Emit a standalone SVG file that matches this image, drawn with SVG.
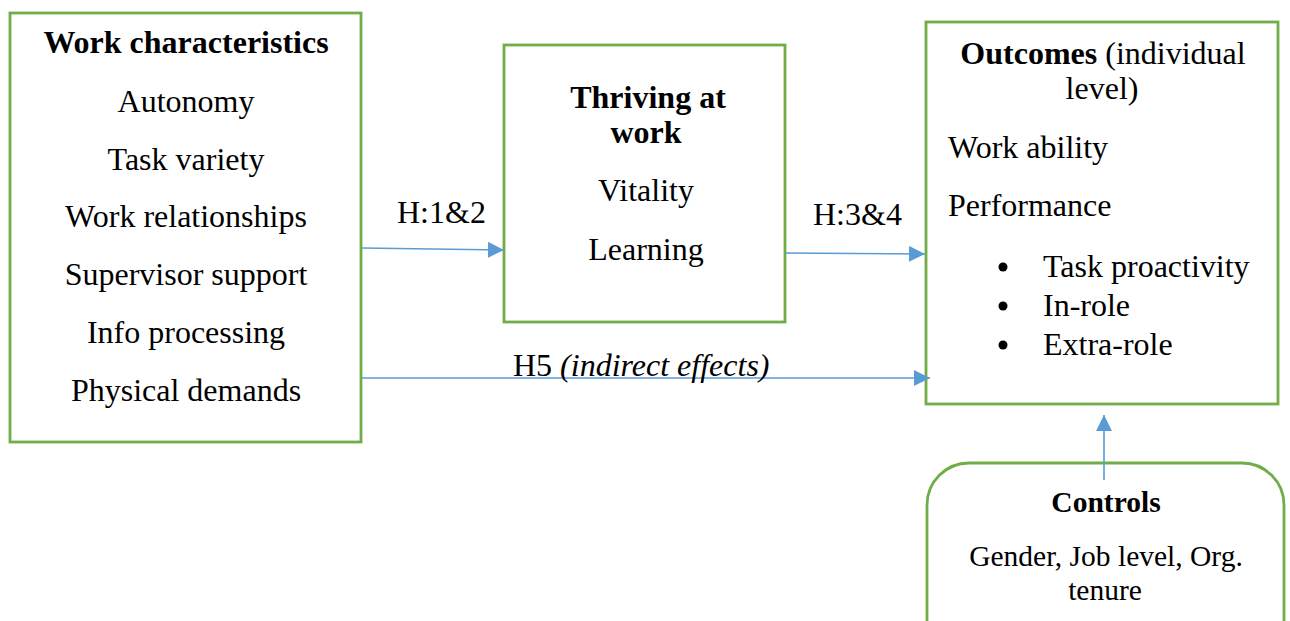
<svg xmlns="http://www.w3.org/2000/svg" width="1290" height="621" viewBox="0 0 1290 621">
  <style>
    .box { fill: #ffffff; stroke: #70AD47; stroke-width: 2.8; }
    .t { font-family: "Liberation Serif", "Times New Roman", serif; font-size: 32px; fill: #000; }
    .s { font-size: 29.5px; }
    .c { text-anchor: middle; }
    .b { font-weight: bold; }
    .dot { fill: #000; }
    .link { stroke: #5B9BD5; stroke-width: 1.6; fill: none; marker-end: url(#arrow); }
  </style>
  <defs>
    <marker id="arrow" viewBox="0 0 16 16" refX="16" refY="8" markerWidth="16" markerHeight="16" markerUnits="userSpaceOnUse" orient="auto">
      <path d="M0,0 L16,8 L0,16 Z" fill="#5B9BD5"/>
    </marker>
  </defs>

  <g id="work-characteristics">
    <rect class="box" x="10" y="13" width="351" height="429"/>
    <text class="t c b" x="186" y="53">Work characteristics</text>
    <text class="t c" x="186" y="112">Autonomy</text>
    <text class="t c" x="186" y="170">Task variety</text>
    <text class="t c" x="186" y="227">Work relationships</text>
    <text class="t c" x="186" y="285">Supervisor support</text>
    <text class="t c" x="186" y="343">Info processing</text>
    <text class="t c" x="186" y="401">Physical demands</text>
  </g>

  <g id="thriving">
    <rect class="box" x="504" y="45" width="281" height="277"/>
    <text class="t c b" x="648" y="108">Thriving at</text>
    <text class="t c b" x="646" y="143">work</text>
    <text class="t c" x="646" y="201">Vitality</text>
    <text class="t c" x="646" y="260">Learning</text>
  </g>

  <g id="outcomes">
    <rect class="box" x="926" y="22" width="352" height="382"/>
    <text class="t c" x="1103" y="64"><tspan class="b">Outcomes</tspan> (individual</text>
    <text class="t c" x="1102" y="99">level)</text>
    <text class="t" x="948" y="158">Work ability</text>
    <text class="t" x="948" y="216">Performance</text>
    <circle class="dot" cx="1003" cy="267" r="4.5"/>
    <text class="t" x="1043" y="277">Task proactivity</text>
    <circle class="dot" cx="1003" cy="306" r="4.5"/>
    <text class="t" x="1043" y="316">In-role</text>
    <circle class="dot" cx="1003" cy="345" r="4.5"/>
    <text class="t" x="1043" y="355">Extra-role</text>
  </g>

  <g id="controls">
    <rect class="box" x="927" y="463" width="357" height="200" rx="42" ry="42"/>
    <text class="t s c b" x="1106" y="512">Controls</text>
    <text class="t s c" x="1106" y="566">Gender, Job level, Org.</text>
    <text class="t s c" x="1105" y="600">tenure</text>
  </g>

  <g id="connectors">
    <line class="link" x1="362" y1="248" x2="504" y2="250"/>
    <text class="t" x="397" y="223">H:1&amp;2</text>
    <line class="link" x1="786" y1="253" x2="925" y2="254"/>
    <text class="t" x="813" y="225">H:3&amp;4</text>
    <line class="link" x1="362" y1="378" x2="930" y2="378"/>
    <text class="t" x="513" y="376">H5 <tspan font-style="italic">(indirect effects)</tspan></text>
    <line class="link" x1="1104" y1="480" x2="1104" y2="415"/>
  </g>
</svg>
